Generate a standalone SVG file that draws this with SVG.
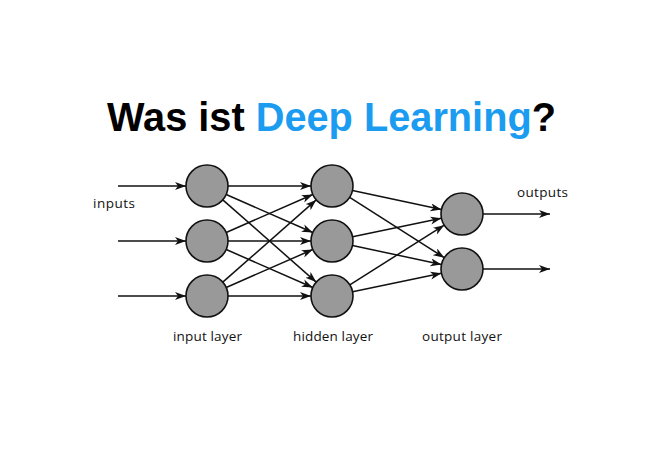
<svg xmlns="http://www.w3.org/2000/svg" width="668" height="453" viewBox="0 0 668 453">
<style>
.node{fill:#999999;stroke:#111111;stroke-width:1.6}
.edge{stroke:#111111;stroke-width:1.5;fill:none;marker-end:url(#arr)}
.lbl{font-family:"Open Sans","DejaVu Sans",sans-serif;font-size:13.5px;fill:#111111}
.title{font-family:"Liberation Sans",Arial,sans-serif;font-weight:bold;font-size:40px;fill:#000000}
</style>
<defs>
<marker id="arr" markerUnits="userSpaceOnUse" markerWidth="12" markerHeight="9" refX="11" refY="4" orient="auto">
<path d="M0,0 L11,4 L0,8 L3,4 z" fill="#111111"/>
</marker>
</defs>
<rect width="668" height="453" fill="#ffffff"/>
<text id="title" class="title" x="107" y="131" textLength="449" lengthAdjust="spacingAndGlyphs">Was ist <tspan fill="#1C9CF0">Deep Learning</tspan>?</text>
<g id="connectors">
<line class="edge" x1="118" y1="186" x2="186" y2="186"/>
<line class="edge" x1="118" y1="241" x2="186" y2="241"/>
<line class="edge" x1="118" y1="296" x2="186" y2="296"/>
<line class="edge" x1="228" y1="186" x2="311" y2="186"/>
<line class="edge" x1="226.2" y1="194.5" x2="312.8" y2="232.5"/>
<line class="edge" x1="222.8" y1="199.9" x2="316.2" y2="282.1"/>
<line class="edge" x1="226.2" y1="232.5" x2="312.8" y2="194.5"/>
<line class="edge" x1="228" y1="241" x2="311" y2="241"/>
<line class="edge" x1="226.2" y1="249.5" x2="312.8" y2="287.5"/>
<line class="edge" x1="222.8" y1="282.1" x2="316.2" y2="199.9"/>
<line class="edge" x1="226.2" y1="287.5" x2="312.8" y2="249.5"/>
<line class="edge" x1="228" y1="296" x2="311" y2="296"/>
<line class="edge" x1="352.5" y1="190.4" x2="441.5" y2="209.6"/>
<line class="edge" x1="349.7" y1="197.3" x2="444.3" y2="257.7"/>
<line class="edge" x1="352.6" y1="236.7" x2="441.4" y2="218.3"/>
<line class="edge" x1="352.5" y1="245.4" x2="441.5" y2="264.6"/>
<line class="edge" x1="349.8" y1="284.8" x2="444.2" y2="225.2"/>
<line class="edge" x1="352.6" y1="291.7" x2="441.4" y2="273.3"/>
<line class="edge" x1="483" y1="214" x2="550" y2="214"/>
<line class="edge" x1="483" y1="269" x2="550" y2="269"/>
</g>
<g id="input-layer">
<circle id="i1" class="node" cx="207" cy="186" r="21"/>
<circle id="i2" class="node" cx="207" cy="241" r="21"/>
<circle id="i3" class="node" cx="207" cy="296" r="21"/>
</g>
<g id="hidden-layer">
<circle id="h1" class="node" cx="332" cy="186" r="21"/>
<circle id="h2" class="node" cx="332" cy="241" r="21"/>
<circle id="h3" class="node" cx="332" cy="296" r="21"/>
</g>
<g id="output-layer">
<circle id="o1" class="node" cx="462" cy="214" r="21"/>
<circle id="o2" class="node" cx="462" cy="269" r="21"/>
</g>
<g id="labels">
<text class="lbl" x="93" y="208" textLength="42">inputs</text>
<text class="lbl" x="517" y="197" textLength="51">outputs</text>
<text class="lbl" x="173" y="341" textLength="69">input layer</text>
<text class="lbl" x="293" y="341" textLength="80">hidden layer</text>
<text class="lbl" x="422" y="341" textLength="80">output layer</text>
</g>
</svg>
